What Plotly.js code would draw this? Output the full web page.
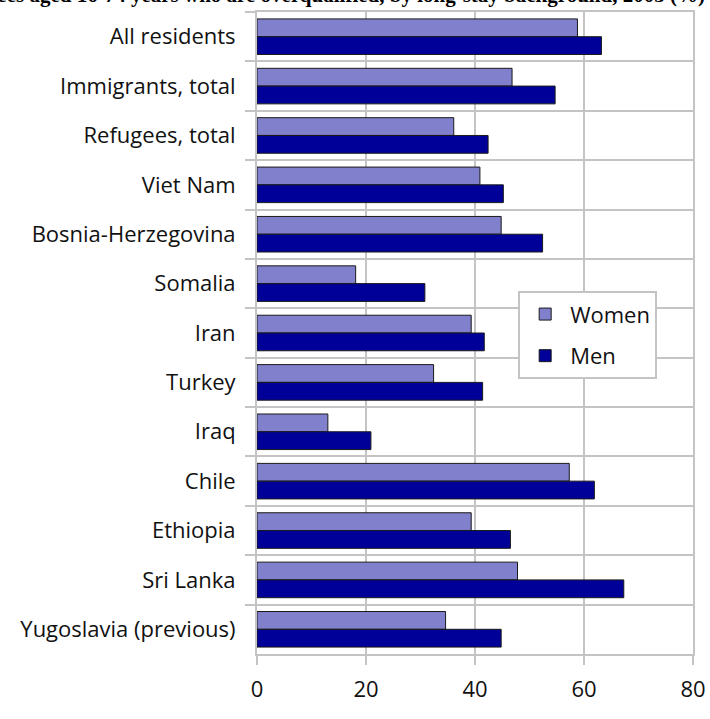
<!DOCTYPE html>
<html>
<head>
<meta charset="utf-8">
<script src="https://cdn.plot.ly/plotly-3.0.1.min.js"></script>
<style>html,body{margin:0;padding:0;background:#fff;}#chart{width:710px;height:719px;}</style>
</head>
<body>
<div id="chart"></div>
<script>
const categories = ["All residents","Immigrants, total","Refugees, total","Viet Nam","Bosnia-Herzegovina","Somalia","Iran","Turkey","Iraq","Chile","Ethiopia","Sri Lanka","Yugoslavia (previous)"];
const women = [58.8, 46.8, 36.1, 40.9, 44.8, 18.1, 39.3, 32.4, 13.0, 57.3, 39.3, 47.8, 34.6];
const men   = [63.2, 54.7, 42.4, 45.2, 52.4, 30.8, 41.7, 41.4, 20.9, 61.9, 46.5, 67.3, 44.8];
const xTicks = [0, 20, 40, 60, 80];
const titleText = "Figure 3. Employees aged 16-74 years who are overqualified, by long-stay background, 2003 (%)";

const gridColor = "#c4c4c4";
const font = "Open Sans, Noto Sans, sans-serif";
const textColor = "#111";

const traces = [
  {type:"bar", orientation:"h", name:"Women", y:categories, x:women, legendgroup:"w",
   marker:{color:"#8080cc", line:{color:"#1a1a1a", width:1}}},
  {type:"bar", orientation:"h", name:"Men", y:categories, x:men, legendgroup:"m",
   marker:{color:"#000099", line:{color:"#1a1a1a", width:1}}}
];

const layout = {
  width:710, height:719,
  margin:{l:257, r:17, t:12, b:65},
  paper_bgcolor:"#fff", plot_bgcolor:"#fff",
  barmode:"group", bargap:0.28, bargroupgap:0,
  font:{family:font, size:22, color:textColor},
  xaxis:{range:[0,80], tickvals:xTicks, ticktext:xTicks.map(String),
    showgrid:true, gridcolor:gridColor, gridwidth:2,
    showline:true, linecolor:gridColor, linewidth:2, mirror:true,
    ticks:"outside", ticklen:9, tickcolor:gridColor, tickwidth:2,
    ticklabelstandoff:6,
    zeroline:false, fixedrange:true,
    tickfont:{family:font, size:22, color:textColor}},
  yaxis:{type:"category", autorange:"reversed", tickson:"boundaries",
    showgrid:true, gridcolor:gridColor, gridwidth:2,
    showline:true, linecolor:gridColor, linewidth:2, mirror:true,
    ticks:"outside", ticklen:10, tickcolor:gridColor, tickwidth:2,
    ticklabelstandoff:15,
    tickfont:{family:font, size:22, color:textColor}},
  showlegend:true,
  legend:{x:0.599, y:0.565, xanchor:"left", yanchor:"top",
    bgcolor:"#fff", bordercolor:gridColor, borderwidth:2,
    traceorder:"grouped", tracegroupgap:10,
    itemwidth:40, entrywidth:136, entrywidthmode:"pixels",
    font:{family:font, size:22, color:textColor}},
  annotations:[{text:"<b>"+titleText+"</b>", xref:"paper", yref:"paper",
    x:(707-257)/436, xanchor:"right", y:1+(12-9)/642, yanchor:"bottom",
    showarrow:false, font:{family:"Liberation Serif, Times New Roman, serif", size:21, color:"#000"}}]
};

Plotly.newPlot("chart", traces, layout, {displayModeBar:false, staticPlot:true});
</script>
</body>
</html>
